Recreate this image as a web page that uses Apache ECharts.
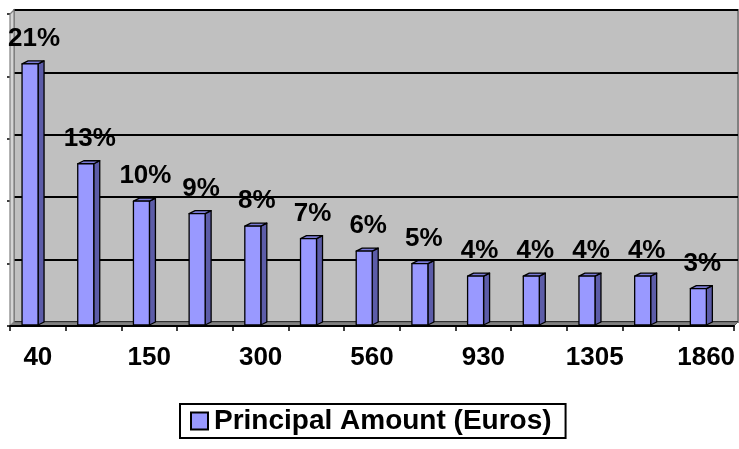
<!DOCTYPE html>
<html>
<head>
<meta charset="utf-8">
<script src="https://cdn.jsdelivr.net/npm/echarts@6/dist/echarts.min.js"></script>
<style>html,body{margin:0;padding:0;background:#fff}#c{width:739px;height:449px}</style>
</head>
<body>
<div id="c"></div>
<script>
// ---- data ----
const categories = ['40', '95', '150', '225', '300', '430', '560', '745', '930', '1120', '1305', '1580', '1860'];
const principalShare = [21, 13, 10, 9, 8, 7, 6, 5, 4, 4, 4, 4, 3];
const seriesName = 'Principal Amount (Euros)';
const yTicks = [0, 5, 10, 15, 20, 25];

// ---- layout ----
const FONT = '"Liberation Sans", Arial, sans-serif';
const BACK = { left: 14, top: 10, width: 724, height: 312 };
const FRONT = { left: 10, top: 14, width: 724, height: 312 };

const chart = echarts.init(document.getElementById('c'), null, { renderer: 'canvas' });

function renderBar(params, api) {
  const idx = api.value(0), v = api.value(1);
  const c = api.coord([idx, v]);
  const b = api.coord([idx, 0]);
  const bw = api.size([1, 0])[0];
  const cx = c[0] - 0.14 * bw;
  const hw = 8, d = 6, dy = 3;
  const x0 = cx - hw, x1 = cx + hw;
  const yb = b[1] - 1, yt = c[1];
  const stroke = { stroke: '#000', lineWidth: 1.3, lineJoin: 'round' };
  return {
    type: 'group',
    children: [
      { type: 'polygon', shape: { points: [[x1, yt], [x1 + d, yt - dy], [x1 + d, yb - dy], [x1, yb]] },
        style: Object.assign({ fill: '#5c5ca8' }, stroke) },
      { type: 'polygon', shape: { points: [[x0, yt], [x0 + d, yt - dy], [x1 + d, yt - dy], [x1, yt]] },
        style: Object.assign({ fill: '#7a7ad6' }, stroke) },
      { type: 'rect', shape: { x: x0, y: yt, width: 2 * hw, height: yb - yt },
        style: Object.assign({ fill: '#9999ff' }, stroke) },
      { type: 'text', x: cx + 4, y: yt - dy - 9,
        style: { text: v + '%', fill: '#000', font: 'bold 26px ' + FONT, textAlign: 'center', textVerticalAlign: 'bottom' } }
    ]
  };
}

const option = {
  backgroundColor: '#fff',
  animation: false,
  grid: [
    Object.assign({ show: true, backgroundColor: '#c0c0c0', borderColor: '#808080', borderWidth: 2 }, BACK),
    Object.assign({ show: false }, FRONT)
  ],
  xAxis: [
    { gridIndex: 0, type: 'category', data: categories, show: false },
    { gridIndex: 1, type: 'category', data: categories, boundaryGap: true,
      axisLine: { show: true, lineStyle: { color: '#000', width: 2 } },
      axisTick: { show: true, interval: 0, length: 5, lineStyle: { color: '#000', width: 1.5 } },
      axisLabel: { interval: 1, margin: 19, color: '#000', fontFamily: FONT, fontWeight: 'bold', fontSize: 26 },
      splitLine: { show: false }, z: 5 }
  ],
  yAxis: [
    { gridIndex: 0, type: 'value', min: yTicks[0], max: yTicks[yTicks.length - 1], interval: 5,
      axisLine: { show: false }, axisTick: { show: false }, axisLabel: { show: false },
      splitLine: { show: true, lineStyle: { color: '#000', width: 2 } } },
    { gridIndex: 1, type: 'value', min: yTicks[0], max: yTicks[yTicks.length - 1], interval: 5,
      axisLine: { show: false },
      axisTick: { show: true, length: 3, lineStyle: { color: '#000', width: 1.5 } },
      axisLabel: { show: false }, splitLine: { show: false } }
  ],
  legend: {
    left: 180, top: 404,
    data: [{ name: seriesName, icon: 'rect' }],
    borderColor: '#000', borderWidth: 2, borderRadius: 0,
    padding: [3, 14, 3, 10],
    itemWidth: 17, itemHeight: 17, itemGap: 6,
    itemStyle: { color: '#9999ff', borderColor: '#000', borderWidth: 2 },
    textStyle: { color: '#000', fontFamily: FONT, fontWeight: 'bold', fontSize: 28, padding: [0, 0, 0, 1] }
  },
  graphic: [
    { type: 'polygon', z: 3, silent: true,
      shape: { points: [[FRONT.left, FRONT.top + FRONT.height], [FRONT.left + FRONT.width, FRONT.top + FRONT.height],
                        [BACK.left + BACK.width, BACK.top + BACK.height], [BACK.left, BACK.top + BACK.height]] },
      style: { fill: '#808080', stroke: '#606060', lineWidth: 1 } },
    { type: 'polygon', z: 3, silent: true,
      shape: { points: [[FRONT.left, FRONT.top], [BACK.left, BACK.top], [BACK.left, BACK.top + BACK.height],
                        [FRONT.left, FRONT.top + FRONT.height]] },
      style: { fill: '#d4d4d4', stroke: '#808080', lineWidth: 1.2 } }
  ],
  series: [{
    type: 'custom', name: seriesName, xAxisIndex: 1, yAxisIndex: 1, z: 10,
    itemStyle: { color: '#9999ff', borderColor: '#000' },
    renderItem: renderBar,
    encode: { x: 0, y: 1 },
    data: principalShare.map((v, i) => [i, v])
  }]
};
chart.setOption(option);
</script>
</body>
</html>
